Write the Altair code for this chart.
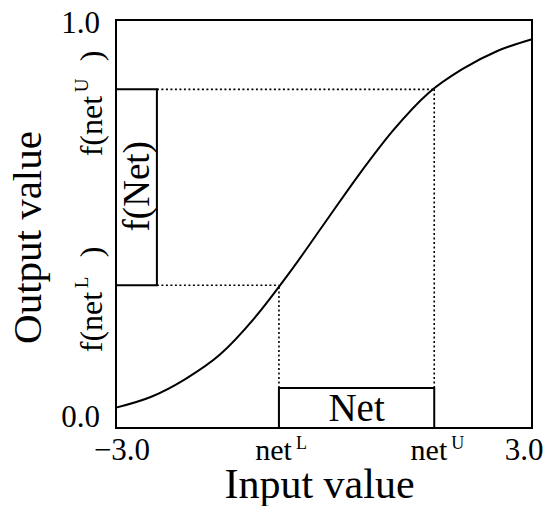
import altair as alt
import pandas as pd

# ---- data ----
curve_x = [-3.0, -2.5, -2.0, -1.5, -1.0, -0.5, 0.0, 0.5, 1.0, 1.5, 2.0, 2.5, 3.0]
curve_y = [0.05, 0.076, 0.12, 0.18, 0.27, 0.38, 0.5, 0.62, 0.73, 0.82, 0.88, 0.924, 0.953]

net_lo, net_hi = -0.65, 1.59        # netL, netU on the input axis
f_lo, f_hi = 0.35, 0.83             # f(netL), f(netU) on the output axis
fbox_x = -2.41                      # right edge of the f(Net) box
netbox_top = 0.098                  # top of the Net box

x_min, x_max = -3.0, 3.0
y_min, y_max = 0.0, 1.0

FONT = "Liberation Serif"

curve = pd.DataFrame({"x": curve_x, "y": curve_y})

dotted = pd.DataFrame({
    "x":  [fbox_x, fbox_x, net_lo, net_hi],
    "x2": [net_lo, net_hi, net_lo, net_hi],
    "y":  [f_lo, f_hi, netbox_top, netbox_top],
    "y2": [f_lo, f_hi, f_lo, f_hi],
})

boxes = pd.DataFrame({
    "x":  [x_min, net_lo],
    "x2": [fbox_x, net_hi],
    "y":  [f_lo, y_min],
    "y2": [f_hi, netbox_top],
})

xs = alt.Scale(domain=[x_min, x_max], nice=False, zero=False)
ys = alt.Scale(domain=[y_min, y_max], nice=False, zero=False)

xa = alt.Axis(
    title="Input value", labels=False, ticks=False, domain=False, grid=False,
    titleFont=FONT, titleFontSize=42, titleFontWeight="normal", titleColor="black",
    titleX=203, titleY=69, titleBaseline="alphabetic", titleAlign="center")
ya = alt.Axis(
    title="Output value", labels=False, ticks=False, domain=False, grid=False,
    titleFont=FONT, titleFontSize=41, titleFontWeight="normal", titleColor="black",
    titleAngle=270, titleX=-76, titleY=217, titleBaseline="alphabetic", titleAlign="center")


def X(f="x:Q"):
    return alt.X(f, scale=xs, axis=xa)


def Y(f="y:Q"):
    return alt.Y(f, scale=ys, axis=ya)


line = alt.Chart(curve).mark_line(color="black", strokeWidth=2, interpolate="monotone").encode(x=X(), y=Y())

dots = alt.Chart(dotted).mark_rule(color="black", strokeWidth=1.6, strokeDash=[2, 2.5]).encode(
    x=X(), x2="x2:Q", y=Y(), y2="y2:Q")

rects = alt.Chart(boxes).mark_rect(fill=None, stroke="black", strokeWidth=2).encode(
    x=X(), x2="x2:Q", y=Y(), y2="y2:Q")

# text inside the boxes
net_txt = alt.Chart(pd.DataFrame({"x": [(net_lo + net_hi) / 2], "y": [(y_min + netbox_top) / 2], "t": ["Net"]})).mark_text(
    font=FONT, fontSize=39, color="black", baseline="middle", align="center", dy=1
).encode(x=X(), y=Y(), text="t:N")

fnet_txt = alt.Chart(pd.DataFrame({"x": [(x_min + fbox_x) / 2], "y": [(f_lo + f_hi) / 2], "t": ["f(Net)"]})).mark_text(
    font=FONT, fontSize=37, color="black", baseline="middle", align="center", angle=270, dx=1, dy=2
).encode(x=X(), y=Y(), text="t:N")

# bottom tick labels
xlo = pd.DataFrame({"x": [x_min], "y": [y_min], "t": ["\u22123.0"]})
xhi = pd.DataFrame({"x": [x_max], "y": [y_min], "t": ["3.0"]})
xlo_txt = alt.Chart(xlo).mark_text(
    font=FONT, fontSize=31, color="black", baseline="alphabetic", align="center", dy=32, dx=6
).encode(x=X(), y=Y(), text="t:N")
xhi_txt = alt.Chart(xhi).mark_text(
    font=FONT, fontSize=31, color="black", baseline="alphabetic", align="center", dy=32, dx=-8
).encode(x=X(), y=Y(), text="t:N")

xnet = pd.DataFrame({"x": [net_lo, net_hi], "y": [y_min, y_min], "t": ["net", "net"], "s": ["L", "U"]})
xnet_main = alt.Chart(xnet).mark_text(
    font=FONT, fontSize=30, color="black", baseline="alphabetic", align="right", dy=32, dx=13
).encode(x=X(), y=Y(), text="t:N")
xnet_sup = alt.Chart(xnet).mark_text(
    font=FONT, fontSize=18, color="black", baseline="alphabetic", align="left", dy=21, dx=17
).encode(x=X(), y=Y(), text="s:N")

# left tick labels
ylo = pd.DataFrame({"x": [x_min], "y": [y_min], "t": ["0.0"]})
yhi = pd.DataFrame({"x": [x_min], "y": [y_max], "t": ["1.0"]})
ylo_txt = alt.Chart(ylo).mark_text(
    font=FONT, fontSize=31, color="black", baseline="alphabetic", align="right", dx=-16, dy=-1
).encode(x=X(), y=Y(), text="t:N")
yhi_txt = alt.Chart(yhi).mark_text(
    font=FONT, fontSize=31, color="black", baseline="alphabetic", align="right", dx=-16, dy=13
).encode(x=X(), y=Y(), text="t:N")

fnet = pd.DataFrame({"x": [x_min, x_min], "y": [f_lo, f_hi], "t": ["f(net", "f(net"], "s": ["L", "U"], "p": [")", ")"]})
f_main = alt.Chart(fnet).mark_text(
    font=FONT, fontSize=32, color="black", baseline="alphabetic", align="left", angle=270, dx=-67, dy=-14
).encode(x=X(), y=Y(), text="t:N")
f_sup = alt.Chart(fnet).mark_text(
    font=FONT, fontSize=19, color="black", baseline="alphabetic", align="left", angle=270, dx=-3, dy=-28
).encode(x=X(), y=Y(), text="s:N")
f_par = alt.Chart(fnet).mark_text(
    font=FONT, fontSize=32, color="black", baseline="alphabetic", align="left", angle=270, dx=28, dy=-14
).encode(x=X(), y=Y(), text="p:N")

chart = alt.layer(
    line, dots, rects, net_txt, fnet_txt, xlo_txt, xhi_txt, xnet_main, xnet_sup,
    ylo_txt, yhi_txt, f_main, f_sup, f_par
).properties(
    width=416, height=408,
    autosize=alt.AutoSizeParams(type="none"),
    padding={"left": 108, "top": 12, "right": 12, "bottom": 78},
    background="white",
).configure_view(stroke="black", strokeWidth=2)

chart.save("out.html", embed_options={"renderer": "svg", "actions": False})
